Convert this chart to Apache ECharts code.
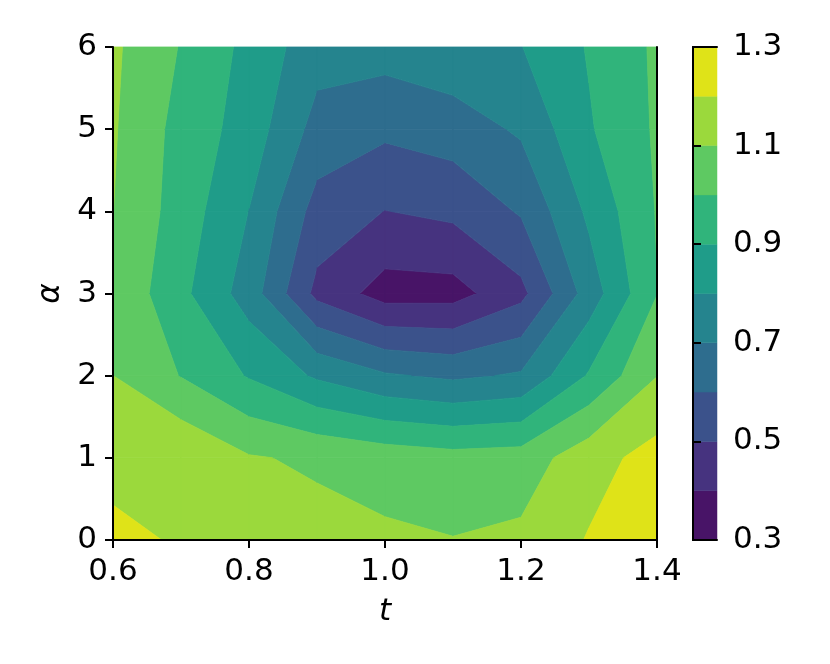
<!DOCTYPE html>
<html><head><meta charset="utf-8">
<script src="https://cdn.jsdelivr.net/npm/echarts@6/dist/echarts.min.js"></script>
<style>html,body{margin:0;padding:0;background:#fff;}#chart{width:830px;height:664px;}</style>
</head><body><div id="chart"></div>
<script>
// grid coordinates
const tValues = [0.6, 0.7, 0.8, 0.9, 1.0, 1.1, 1.2, 1.3, 1.4];
const alphaValues = [0, 1, 2, 3, 4, 5, 6];
// values at each grid node, one row per alpha
const zAlpha0 = [1.240, 1.184, 1.160, 1.134, 1.117, 1.103, 1.121, 1.207, 1.280];
const zAlpha1 = [1.146, 1.190, 1.108, 1.085, 1.057, 1.036, 1.045, 1.160, 1.239];
const zAlpha2 = [1.1005, 0.996, 0.892, 0.785, 0.712, 0.681, 0.712, 0.910, 1.098];
const zAlpha3 = [1.085, 0.925, 0.753, 0.472, 0.358, 0.362, 0.472, 0.745, 0.998];
const zAlpha4 = [1.101, 0.955, 0.798, 0.560, 0.498, 0.523, 0.610, 0.820, 1.006];
const zAlpha5 = [1.110, 0.965, 0.856, 0.664, 0.620, 0.649, 0.714, 0.890, 1.013];
const zAlpha6 = [1.117, 0.994, 0.872, 0.740, 0.741, 0.773, 0.797, 0.908, 1.016];
// contour levels and colours (viridis at band midpoints)
const levels = [0.3, 0.4, 0.5, 0.6, 0.7, 0.8, 0.9, 1.0, 1.1, 1.2, 1.3];
const bandColors = ['#481467', '#46337f', '#3b528b', '#2e6d8e', '#25848e', '#1f9c89', '#30b47b', '#5ec962', '#9bd93c', '#dfe318'];

const zGrid = [zAlpha0, zAlpha1, zAlpha2, zAlpha3, zAlpha4, zAlpha5, zAlpha6];

function inter(a, b, lev) {
  const f = (lev - a[2]) / (b[2] - a[2]);
  return [a[0] + f * (b[0] - a[0]), a[1] + f * (b[1] - a[1]), lev];
}
function clip(poly, lev, above, inclusive) {
  const inside = v => above ? v[2] >= lev : (inclusive ? v[2] <= lev : v[2] < lev);
  const out = [];
  for (let n = 0; n < poly.length; n++) {
    const cur = poly[n], prev = poly[(n + poly.length - 1) % poly.length];
    const ci = inside(cur), pi = inside(prev);
    if (ci) { if (!pi) out.push(inter(prev, cur, lev)); out.push(cur); }
    else if (pi) out.push(inter(prev, cur, lev));
  }
  return out;
}
const polys = [];
for (let j = 0; j < alphaValues.length - 1; j++) {
  for (let i = 0; i < tValues.length - 1; i++) {
    const quad = [
      [tValues[i], alphaValues[j], zGrid[j][i]],
      [tValues[i + 1], alphaValues[j], zGrid[j][i + 1]],
      [tValues[i + 1], alphaValues[j + 1], zGrid[j + 1][i + 1]],
      [tValues[i], alphaValues[j + 1], zGrid[j + 1][i]]
    ];
    for (let k = 0; k < levels.length - 1; k++) {
      let p = clip(quad, levels[k], true, false);
      if (p.length >= 3) p = clip(p, levels[k + 1], false, k === levels.length - 2);
      if (p.length >= 3) polys.push({ band: k, pts: p });
    }
  }
}
const polyData = polys.map(p => {
  let cx = 0, cy = 0;
  p.pts.forEach(q => { cx += q[0]; cy += q[1]; });
  return [cx / p.pts.length, cy / p.pts.length];
});
const cbData = levels.slice(0, -1).map((lo, k) => [0, lo, levels[k + 1]]);

const FONT = 'DejaVu Sans';
const FS = 31;
const lineStyle = { color: '#000', width: 2 };

const chart = echarts.init(document.getElementById('chart'), null, { renderer: 'canvas' });
chart.setOption({
  animation: false,
  backgroundColor: '#fff',
  grid: [
    { left: 113, top: 47, width: 544, height: 493 },
    { left: 693, top: 47, width: 24, height: 493 }
  ],
  xAxis: [
    { gridIndex: 0, type: 'value', min: 0.6, max: 1.4, interval: 0.2, position: 'bottom', z: 5,
      axisLine: { show: true, lineStyle }, axisTick: { show: true, length: 8, lineStyle },
      axisLabel: { margin: 16, fontSize: FS, fontFamily: FONT, color: '#000', formatter: v => v.toFixed(1) },
      splitLine: { show: false },
      name: 't', nameLocation: 'middle', nameGap: 56,
      nameTextStyle: { fontSize: FS, fontFamily: FONT, fontStyle: 'italic', color: '#000' } },
    { gridIndex: 0, type: 'value', min: 0.6, max: 1.4, position: 'top', z: 5,
      axisLine: { show: true, lineStyle }, axisTick: { show: false }, axisLabel: { show: false }, splitLine: { show: false } },
    { gridIndex: 1, type: 'value', min: 0, max: 1, position: 'bottom', z: 5,
      axisLine: { show: true, lineStyle }, axisTick: { show: false }, axisLabel: { show: false }, splitLine: { show: false } },
    { gridIndex: 1, type: 'value', min: 0, max: 1, position: 'top', z: 5,
      axisLine: { show: true, lineStyle }, axisTick: { show: false }, axisLabel: { show: false }, splitLine: { show: false } }
  ],
  yAxis: [
    { gridIndex: 0, type: 'value', min: 0, max: 6, interval: 1, position: 'left', z: 5,
      axisLine: { show: true, lineStyle }, axisTick: { show: true, length: 8, lineStyle },
      axisLabel: { margin: 16, fontSize: FS, fontFamily: FONT, color: '#000' },
      splitLine: { show: false },
      name: 'α', nameLocation: 'middle', nameGap: 44, nameRotate: 90,
      nameTextStyle: { fontSize: FS, fontFamily: FONT, fontStyle: 'italic', color: '#000' } },
    { gridIndex: 0, type: 'value', min: 0, max: 6, position: 'right', z: 5,
      axisLine: { show: true, lineStyle }, axisTick: { show: false }, axisLabel: { show: false }, splitLine: { show: false } },
    { gridIndex: 1, type: 'value', min: 0.3, max: 1.3, interval: 0.2, position: 'right', z: 5,
      axisLine: { show: true, lineStyle }, axisTick: { show: true, length: 8, lineStyle },
      axisLabel: { margin: 16, fontSize: FS, fontFamily: FONT, color: '#000', formatter: v => v.toFixed(1) },
      splitLine: { show: false } },
    { gridIndex: 1, type: 'value', min: 0.3, max: 1.3, position: 'left', z: 5,
      axisLine: { show: true, lineStyle }, axisTick: { show: false }, axisLabel: { show: false }, splitLine: { show: false } }
  ],
  series: [
    { type: 'custom', xAxisIndex: 0, yAxisIndex: 0, silent: true, z: 2,
      encode: { x: 0, y: 1 },
      data: polyData,
      renderItem: function (params, api) {
        const p = polys[params.dataIndex];
        const pts = p.pts.map(q => api.coord([q[0], q[1]]));
        const c = bandColors[p.band];
        return { type: 'polygon', shape: { points: pts },
          style: { fill: c, stroke: c, lineWidth: 0.8, lineJoin: 'round' } };
      } },
    { type: 'custom', xAxisIndex: 2, yAxisIndex: 2, silent: true, z: 2,
      encode: { x: 0, y: [1, 2] },
      data: cbData,
      renderItem: function (params, api) {
        const a = api.coord([0, api.value(1)]);
        const b = api.coord([1, api.value(2)]);
        const c = bandColors[params.dataIndex];
        return { type: 'rect', shape: { x: a[0], y: b[1], width: b[0] - a[0], height: a[1] - b[1] },
          style: { fill: c, stroke: c, lineWidth: 0.5 } };
      } }
  ]
});
</script></body></html>
